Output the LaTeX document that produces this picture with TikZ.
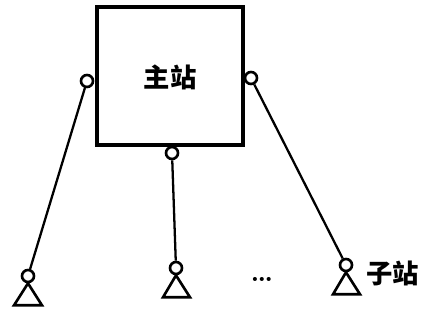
\documentclass[tikz,border=0pt]{standalone}
\usepackage{fontspec}
\newfontfamily\cjk{Noto Sans CJK SC}
\begin{document}
\begin{tikzpicture}[x=0.02cm,y=-0.02cm,
        port/.style={draw,circle,line width=1.5pt,inner sep=0pt,minimum size=0.24cm,fill=white},
        wire/.style={line width=1.3pt}]
            \useasboundingbox (0,0) rectangle (425,323);
            \node[draw,line width=2.2pt,minimum width=2.92cm,minimum height=2.76cm,inner sep=0pt] (master) at (170,76) {};
            \node at (170,77) {\cjk\fontsize{15}{17}\selectfont\bfseries 主站};
            \node[port] (pl) at (87,81) {};
            \node[port] (pr) at (251,78) {};
            \node[port] (pb) at (172,153) {};

            \node[port] (s1) at (28,276) {};
            \node[port] (s2) at (176,268) {};
            \node[port] (s3) at (346,265) {};
            \draw[line width=1.5pt] (s1.south)--++(-14,22)--++(28,0)--cycle;
            \draw[line width=1.5pt] (s2.south)--++(-13,22)--++(27,0)--cycle;
            \draw[line width=1.5pt] (s3.south)--++(-13,22)--++(27,0)--cycle;

            \draw[wire] (pl)--(s1);
            \draw[wire] (pb)--(s2);
            \draw[wire] (pr)--(s3);

            \node (dots) at (262,279) {\fontsize{16}{18}\selectfont\bfseries\dots};
            \node[right,inner sep=0pt] (lab) at (366,273) {\cjk\fontsize{15}{17}\selectfont\bfseries 子站};
        \end{tikzpicture}
\end{document}
